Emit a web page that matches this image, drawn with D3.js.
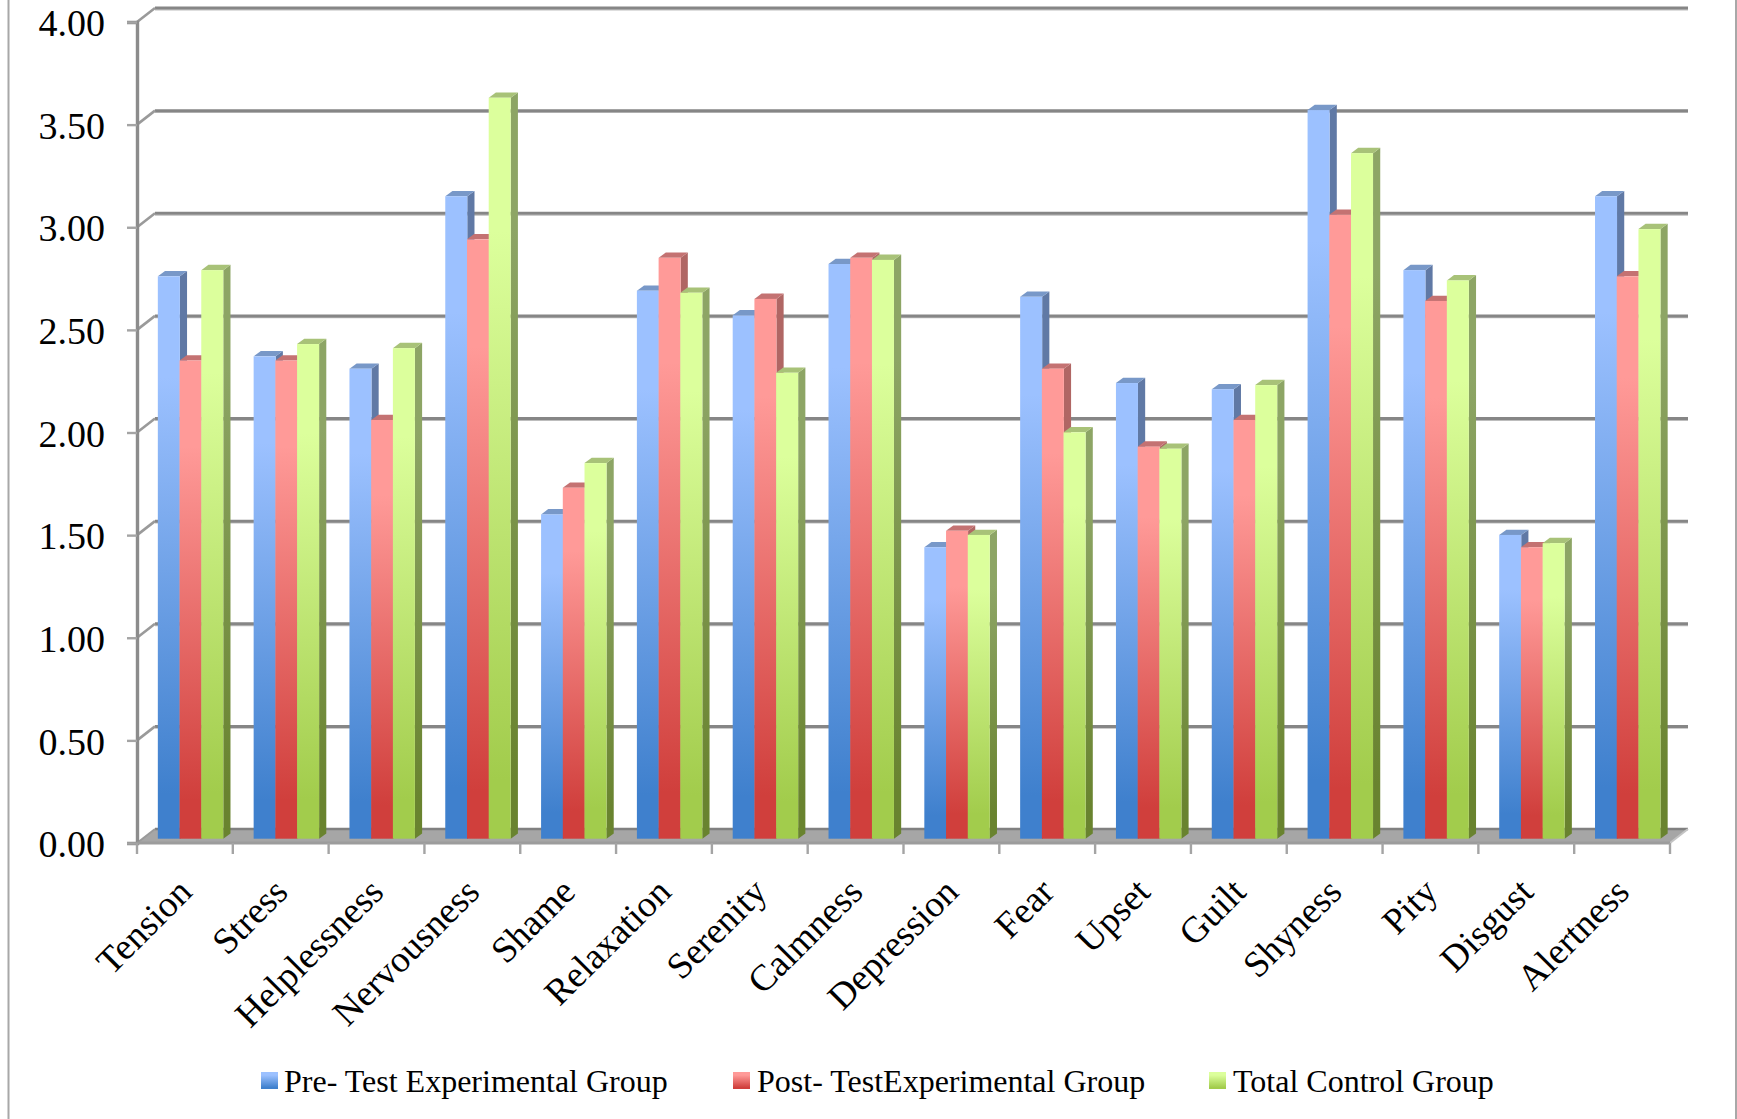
<!DOCTYPE html>
<html>
<head>
<meta charset="utf-8">
<script src="https://cdnjs.cloudflare.com/ajax/libs/d3/7.8.5/d3.min.js"></script>
<style>
html,body{margin:0;padding:0;background:#fff;}
svg{display:block;}
text{font-family:"Liberation Serif","Times New Roman",serif;fill:#000;}
</style>
</head>
<body>
<svg id="chart" width="1737" height="1119"></svg>
<script>
const categories = ["Tension","Stress","Helplessness","Nervousness","Shame","Relaxation","Serenity","Calmness","Depression","Fear","Upset","Guilt","Shyness","Pity","Disgust","Alertness"];
const preTest = [2.74,2.35,2.29,3.13,1.58,2.67,2.55,2.80,1.42,2.64,2.22,2.19,3.55,2.77,1.48,3.13];
const postTest = [2.33,2.33,2.04,2.92,1.71,2.83,2.63,2.83,1.50,2.29,1.91,2.04,3.04,2.62,1.42,2.74];
const controlGroup = [2.77,2.41,2.39,3.61,1.83,2.66,2.27,2.82,1.48,1.98,1.90,2.21,3.34,2.72,1.44,2.97];
const seriesNames = ["Pre- Test Experimental Group","Post- TestExperimental Group","Total Control Group"];
const yTicks = [0,0.5,1,1.5,2,2.5,3,3.5,4];

const palette = [
  {light:"#9cc1ff",dark:"#3f80cd",top:"#7898c8",sideTop:"#6079a5",sideBottom:"#2e5e9a"},
  {light:"#ff9a98",dark:"#d03f3c",top:"#c47272",sideTop:"#b06664",sideBottom:"#983230"},
  {light:"#dcff9c",dark:"#a2cc4c",top:"#a8c278",sideTop:"#8da565",sideBottom:"#69832f"}
];

const svg = d3.select("#chart");
const defs = svg.append("defs");

// Oblique projection offsets of the 3D chart box and of each column
const wallDx = 18, wallDy = 14, barDx = 7.2, barDy = 5.3;
const left = 137, right = 1670, floorY = 843, topY = 22;

const y = d3.scaleLinear().domain([0,4]).range([floorY,topY]);
const barY = d3.scaleLinear().domain([0,4]).range([floorY-4.3,topY-4.3]);
const x = d3.scaleBand().domain(categories).range([left,right]).paddingInner(0.32).paddingOuter(0.16);
const xInner = d3.scaleBand().domain(d3.range(3)).range([0,x.bandwidth()]);
const barShift = 5.5;

// Column faces hold their light shade near the top and their dark shade near the base
palette.forEach((c,i)=>{
  const face = defs.append("linearGradient").attr("id","face"+i).attr("x1",0).attr("y1",0).attr("x2",0).attr("y2",1);
  face.append("stop").attr("offset","0").attr("stop-color",c.light);
  face.append("stop").attr("offset","0.18").attr("stop-color",c.light);
  face.append("stop").attr("offset","0.92").attr("stop-color",c.dark);
  face.append("stop").attr("offset","1").attr("stop-color",c.dark);
  const side = defs.append("linearGradient").attr("id","side"+i).attr("x1",0).attr("y1",0).attr("x2",0).attr("y2",1);
  side.append("stop").attr("offset","0").attr("stop-color",c.sideTop);
  side.append("stop").attr("offset","0.18").attr("stop-color",c.sideTop);
  side.append("stop").attr("offset","0.92").attr("stop-color",c.sideBottom);
  side.append("stop").attr("offset","1").attr("stop-color",c.sideBottom);
});

// Page frame edges
svg.append("line").attr("x1",8.5).attr("x2",8.5).attr("y1",0).attr("y2",1119).attr("stroke","#a8a8a8").attr("stroke-width",2);
svg.append("line").attr("x1",1736).attr("x2",1736).attr("y1",0).attr("y2",1119).attr("stroke","#a8a8a8").attr("stroke-width",2);

// Back wall gridlines with the short diagonal back to the side wall
const grid = svg.append("g");
yTicks.filter(t=>t>0).forEach(t=>{
  const yb = y(t)-wallDy;
  grid.append("line").attr("x1",left+wallDx).attr("x2",right+wallDx).attr("y1",yb+1.8).attr("y2",yb+1.8).attr("stroke","#bdbdbd").attr("stroke-width",1.2);
  grid.append("line").attr("x1",left+wallDx).attr("x2",right+wallDx).attr("y1",yb).attr("y2",yb).attr("stroke","#868686").attr("stroke-width",3);
  grid.append("line").attr("x1",left).attr("x2",left+wallDx).attr("y1",y(t)).attr("y2",yb).attr("stroke","#9a9a9a").attr("stroke-width",2.6);
});

// Floor of the chart box
const floorPts = [[left,floorY],[left+wallDx,floorY-wallDy],[right+wallDx,floorY-wallDy],[right,floorY]];
svg.append("polygon").attr("points",floorPts.join(" ")).attr("fill","#a6a6a6");
svg.append("line").attr("x1",left+wallDx).attr("x2",right+wallDx).attr("y1",floorY-wallDy).attr("y2",floorY-wallDy).attr("stroke","#808080").attr("stroke-width",2.4);
svg.append("line").attr("x1",left).attr("x2",left+wallDx).attr("y1",floorY).attr("y2",floorY-wallDy).attr("stroke","#9a9a9a").attr("stroke-width",2);
svg.append("line").attr("x1",right).attr("x2",right+wallDx).attr("y1",floorY).attr("y2",floorY-wallDy).attr("stroke","#c4c4c4").attr("stroke-width",2);

// Value axis
const yAxis = d3.axisLeft(y).tickValues(yTicks).tickFormat(d3.format(".2f")).tickSize(10).tickPadding(22);
const yG = svg.append("g").attr("transform",`translate(${left},0)`).call(yAxis);
yG.select(".domain").attr("stroke","#8c8c8c").attr("stroke-width",3.4);
yG.selectAll(".tick line").attr("stroke","#a4a4a4").attr("stroke-width",2.4);
yG.selectAll(".tick text").attr("font-size",38).attr("dy","0.36em").style("font-family",'"Liberation Serif",serif');

// Category axis: ticks fall on the band boundaries
const xTicks = d3.range(categories.length+1).map(i=>left+i*x.step());
svg.append("line").attr("x1",left).attr("x2",right).attr("y1",floorY).attr("y2",floorY).attr("stroke","#9c9c9c").attr("stroke-width",3);
svg.append("g").selectAll("line").data(xTicks).join("line")
  .attr("x1",d=>d).attr("x2",d=>d).attr("y1",floorY).attr("y2",floorY+11)
  .attr("stroke","#a4a4a4").attr("stroke-width",2.4);

// Columns, painted left to right so each one covers its neighbour's side face
const seriesValues = [preTest,postTest,controlGroup];
const groups = svg.append("g").selectAll("g").data(categories).join("g")
  .attr("transform",c=>`translate(${x(c)+barShift},0)`);
groups.each(function(c,ci){
  const g = d3.select(this);
  seriesValues.forEach((vals,si)=>{
    const x0 = xInner(si), w = xInner.bandwidth()+0.3;
    const yt = barY(vals[ci]), yb = barY(0);
    g.append("polygon")
      .attr("points",[[x0+w,yb],[x0+w+barDx,yb-barDy],[x0+w+barDx,yt-barDy],[x0+w,yt]].join(" "))
      .attr("fill",`url(#side${si})`);
    g.append("polygon")
      .attr("points",[[x0,yt],[x0+barDx,yt-barDy],[x0+w+barDx,yt-barDy],[x0+w,yt]].join(" "))
      .attr("fill",palette[si].top);
    g.append("rect").attr("x",x0).attr("y",yt).attr("width",w).attr("height",yb-yt)
      .attr("fill",`url(#face${si})`);
  });
});

// Slanted category labels
svg.append("g").selectAll("text").data(categories).join("text")
  .attr("text-anchor","end").attr("font-size",37)
  .attr("transform",(c,i)=>`translate(${left+(i+0.5)*x.step()+9},${894}) rotate(-45)`)
  .text(c=>c);

// Legend
const legendX = [261,733,1209], textX = [284,757,1233];
const legend = svg.append("g");
seriesNames.forEach((name,i)=>{
  legend.append("rect").attr("x",legendX[i]).attr("y",1072).attr("width",17).attr("height",17).attr("fill",`url(#face${i})`);
  legend.append("text").attr("x",textX[i]).attr("y",1092).attr("font-size",32).text(name);
});
</script>
</body>
</html>
